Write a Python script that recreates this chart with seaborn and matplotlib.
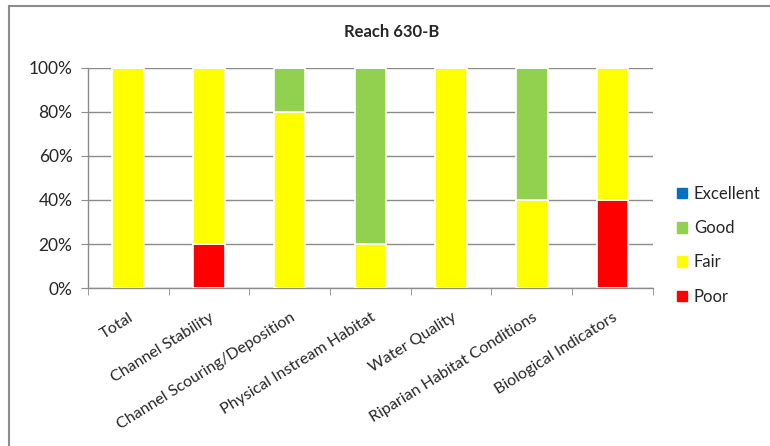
import matplotlib
matplotlib.use("Agg")
import matplotlib.pyplot as plt
import matplotlib.patches as mpatches
import pandas as pd
import seaborn as sns

# Reach 630-B condition ratings, share of each rating per category (%)
categories = ["Total", "Channel Stability", "Channel Scouring/Deposition",
              "Physical Instream Habitat", "Water Quality",
              "Riparian Habitat Conditions", "Biological Indicators"]
poor = [0, 20, 0, 0, 0, 0, 40]
fair = [100, 80, 80, 20, 100, 40, 60]
good = [0, 0, 20, 80, 0, 60, 0]
excellent = [0, 0, 0, 0, 0, 0, 0]

ratings = ["Poor", "Fair", "Good", "Excellent"]
colors = {"Poor": "#FF0000", "Fair": "#FFFF00", "Good": "#92D050", "Excellent": "#0070C0"}

df = pd.DataFrame({"Poor": poor, "Fair": fair, "Good": good, "Excellent": excellent},
                  index=categories)

sns.set_style("white")
plt.rcParams["font.family"] = ["Lato", "DejaVu Sans"]

fig = plt.figure(figsize=(7.7, 4.46), dpi=100)
ax = fig.add_axes([0.114, 0.354, 0.734, 0.494])

# stack the segments with seaborn barplot, bottom-up
bottom = pd.Series(0, index=categories)
for r in ratings:
    sns.barplot(x=categories, y=df[r].values, bottom=bottom.values, color=colors[r],
                saturation=1, width=0.39, edgecolor="white", linewidth=1.2,
                ax=ax, legend=False, zorder=3)
    bottom = bottom + df[r]

ax.set_xlim(-0.5, len(categories) - 0.5)
ax.set_ylim(0, 100)
ax.set_yticks(range(0, 101, 20))
ax.set_yticklabels([f"{v}%" for v in range(0, 101, 20)], fontsize=12.5)
ax.yaxis.grid(True, color="#8c8c8c", linewidth=1, zorder=0)
ax.set_axisbelow(True)

ax.set_xticks(range(len(categories)))
ax.set_xticklabels(categories, rotation=32, ha="right", va="top",
                   rotation_mode="anchor", fontsize=11.5)
ax.tick_params(axis="x", length=0, pad=16)
ax.tick_params(axis="y", length=5, color="#8c8c8c", left=True, pad=6)
# boundary tick marks between categories
ax.set_xticks([i - 0.5 for i in range(len(categories) + 1)], minor=True)
ax.tick_params(axis="x", which="minor", length=5, color="#8c8c8c", bottom=True)

for s in ["top", "right"]:
    ax.spines[s].set_visible(False)
for s in ["left", "bottom"]:
    ax.spines[s].set_color("#8c8c8c")
    ax.spines[s].set_linewidth(1)

fig.text(0.509, 0.929, "Reach 630-B", ha="center", va="center",
         fontsize=12, fontweight="bold")

handles = [mpatches.Patch(color=colors[r], label=r) for r in ratings[::-1]]
fig.legend(handles=handles, loc="center left", bbox_to_anchor=(0.86, 0.45),
           frameon=False, fontsize=12, handlelength=0.6, handleheight=0.6,
           handletextpad=0.4, labelspacing=1.1)

fig.patches.append(mpatches.Rectangle((9 / 770, -0.1), 1.2, 1.1 - 6 / 446,
                                      transform=fig.transFigure, fill=False,
                                      edgecolor="#8c8c8c", linewidth=1.5))

fig.savefig("out.png", dpi=100)
